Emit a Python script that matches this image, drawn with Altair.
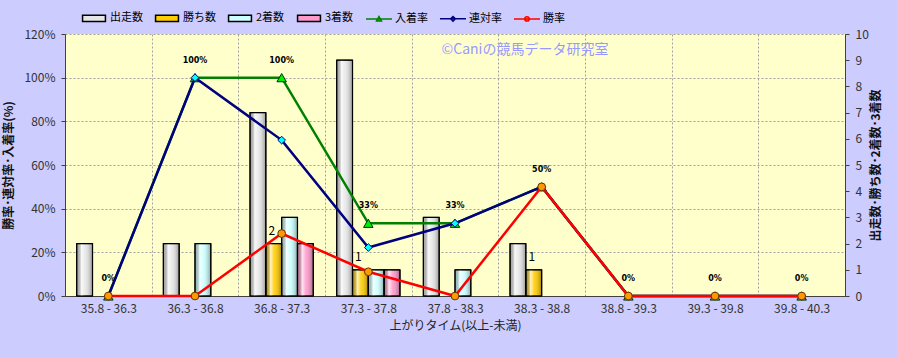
import altair as alt
import pandas as pd

# ---------------- data ----------------
categories = ["35.8 - 36.3", "36.3 - 36.8", "36.8 - 37.3", "37.3 - 37.8", "37.8 - 38.3",
              "38.3 - 38.8", "38.8 - 39.3", "39.3 - 39.8", "39.8 - 40.3"]
runs = [2, 2, 7, 9, 3, 2, 0, 0, 0]          # 出走数
wins = [0, 0, 2, 1, 0, 1, 0, 0, 0]          # 勝ち数
seconds = [0, 2, 3, 1, 1, 0, 0, 0, 0]       # 2着数
thirds = [0, 0, 2, 1, 0, 0, 0, 0, 0]        # 3着数
show_rate = [0, 1.0, 1.0, 0.333, 0.333, 0.5, 0, 0, 0]      # 入着率
rentai_rate = [0, 1.0, 0.714, 0.222, 0.333, 0.5, 0, 0, 0]  # 連対率
win_rate = [0, 0, 0.286, 0.111, 0, 0.5, 0, 0, 0]           # 勝率

bar_series = ["出走数", "勝ち数", "2着数", "3着数"]
rate_series = ["入着率", "連対率", "勝率"]
all_series = bar_series + rate_series

FONT = "Noto Sans CJK JP"

# ---------------- tables ----------------
bar_rows = []
for s, vals in zip(bar_series, [runs, wins, seconds, thirds]):
    for c, v in zip(categories, vals):
        if v > 0:
            bar_rows.append({"cat": c, "series": s, "count": v})
bars_df = pd.DataFrame(bar_rows)
wins_lbl_df = pd.DataFrame([{"cat": c, "series": "勝ち数", "count": v}
                            for c, v in zip(categories, wins) if v > 0])

def rate_df(vals):
    return pd.DataFrame({"cat": categories, "rate": vals})

# legend-only rows, placed outside the y domain and clipped away
legend_df = pd.DataFrame({"series": all_series, "cat": categories[0], "rate": -1.0})

# ---------------- scales / encodings ----------------
fill_colors = ["#e6e6e6", "#ffcc00", "#ccffff", "#ff99cc", "#00ee00", "#00ffff", "#ff9900"]
stroke_colors = ["#000000", "#000000", "#000000", "#000000", "#008000", "#000080", "#ff0000"]
bar_path = "M-0.88,-0.24H0.88V0.24H-0.88Z"
shape_paths = [
    bar_path, bar_path, bar_path, bar_path,
    "M-1,0H1M0,-0.19L0.19,0.15L-0.19,0.15Z",
    "M-1,0H1M0,-0.18L0.18,0L0,0.18L-0.18,0Z",
    "M-1,0H1M-0.17,0A0.17,0.17 0 1,1 0.17,0A0.17,0.17 0 1,1 -0.17,0Z",
]

legend = alt.Legend(title=None, orient="none", legendX=15, legendY=-30,
                    direction="horizontal", columns=7,
                    symbolSize=676, symbolStrokeWidth=1.5, symbolOpacity=1,
                    labelFont=FONT, labelFontSize=11, labelColor="#000000",
                    labelOffset=2, columnPadding=9)

x_enc = alt.X("cat:N", sort=categories,
              scale=alt.Scale(domain=categories, paddingInner=0, paddingOuter=0),
              axis=alt.Axis(title="上がりタイム(以上-未満)", labelAngle=0, tickBand="extent",
                            grid=True, gridDash=[2, 2], gridColor="#a0a0a0",
                            ticks=False, domainColor="#404040",
                            labelFont=FONT, labelFontSize=12, labelColor="#333333",
                            labelPadding=7, titleFont=FONT, titleFontSize=12,
                            titleFontWeight="normal", titleColor="#222222",
                            titlePadding=6))

xoff_enc = alt.XOffset("series:N",
                       scale=alt.Scale(domain=bar_series, paddingInner=0, paddingOuter=0.74))

y_count = alt.Y("count:Q", scale=alt.Scale(domain=[0, 10]),
                axis=alt.Axis(orient="right", values=list(range(11)), grid=False,
                              title="出走数･勝ち数･2着数･3着数", titleAngle=270,
                              titleFont=FONT, titleFontSize=12, titleFontWeight="bold",
                              titleColor="#111111", titlePadding=14,
                              labelFont=FONT, labelFontSize=12, labelColor="#333333",
                              labelPadding=6, tickSize=4, tickColor="#404040",
                              domainColor="#404040"))

y_rate = alt.Y("rate:Q", scale=alt.Scale(domain=[0, 1.2]),
               axis=alt.Axis(orient="left", values=[0, 0.2, 0.4, 0.6, 0.8, 1.0, 1.2],
                             format=".0%", grid=True, gridDash=[2, 2], gridColor="#a0a0a0",
                             title="勝率･連対率･入着率(%)", titleAngle=270,
                             titleFont=FONT, titleFontSize=12, titleFontWeight="bold",
                             titleColor="#111111", titlePadding=8,
                             labelFont=FONT, labelFontSize=12, labelColor="#333333",
                             labelPadding=6, tickSize=4, tickColor="#404040",
                             domainColor="#404040"))

# ---------------- bars group ----------------
shade = alt.LinearGradient(
    gradient="linear", x1=0, x2=1, y1=0, y2=0,
    stops=[alt.GradientStop(offset=0, color="rgba(0,0,0,0.22)"),
           alt.GradientStop(offset=0.3, color="rgba(255,255,255,0.75)"),
           alt.GradientStop(offset=0.55, color="rgba(255,255,255,0.1)"),
           alt.GradientStop(offset=1, color="rgba(0,0,0,0.35)")])

bar_fill_scale = alt.Scale(domain=bar_series, range=fill_colors[:4])

bars = alt.Chart(bars_df).mark_bar(stroke="#000000", strokeWidth=1).encode(
    x=x_enc, xOffset=xoff_enc, y=y_count,
    color=alt.Color("series:N", scale=bar_fill_scale, legend=None))
bars_shade = alt.Chart(bars_df).mark_bar(fill=shade, stroke="#000000", strokeWidth=1.2).encode(
    x=x_enc, xOffset=xoff_enc, y=y_count)
win_labels = alt.Chart(wins_lbl_df).mark_text(dy=-13, dx=-2, font=FONT, fontSize=12,
                                              color="#000000").encode(
    x=x_enc, xOffset=xoff_enc, y=y_count, text=alt.Text("count:Q"))

bars_group = alt.layer(bars, bars_shade, win_labels)

# ---------------- rates group ----------------
def line_layer(vals, color):
    return alt.Chart(rate_df(vals)).mark_line(color=color, strokeWidth=2.5).encode(
        x=x_enc, y=y_rate)

def point_layer(vals, shape, fill, stroke, size):
    return alt.Chart(rate_df(vals)).mark_point(shape=shape, filled=True, fill=fill,
                                               stroke=stroke, strokeWidth=1, size=size,
                                               opacity=1).encode(x=x_enc, y=y_rate)

show_line = line_layer(show_rate, "#008000")
show_pts = point_layer(show_rate, "triangle-up", "#00ee00", "#003300", 90)
rentai_line = line_layer(rentai_rate, "#000080")
rentai_pts = point_layer(rentai_rate, "diamond", "#00ffff", "#000080", 60)
win_line = line_layer(win_rate, "#ff0000")
win_pts = point_layer(win_rate, "circle", "#ff9900", "#663300", 60)

show_labels = alt.Chart(rate_df(show_rate)).mark_text(
    dy=-17, font="DejaVu Sans", fontSize=8, fontWeight="bold", color="#000000").encode(
    x=x_enc, y=y_rate, text=alt.Text("rate:Q", format=".0%"))

watermark = alt.Chart(pd.DataFrame({"a": [0]})).mark_text(
    font=FONT, fontSize=14, color="#9999ff", align="center").encode(
    x=alt.value(460), y=alt.value(16), text=alt.value("©Caniの競馬データ研究室"))

rates_group = alt.layer(show_line, show_pts, rentai_line, rentai_pts,
                        win_line, win_pts, show_labels, watermark)

legend_layer = alt.Chart(legend_df).mark_point(filled=True, clip=True, opacity=1).encode(
    x=x_enc,
    y=alt.Y("rate:Q", scale=alt.Scale(domain=[0, 1.2]), axis=None),
    fill=alt.Fill("series:N", scale=alt.Scale(domain=all_series, range=fill_colors), legend=legend),
    stroke=alt.Stroke("series:N", scale=alt.Scale(domain=all_series, range=stroke_colors), legend=legend),
    shape=alt.Shape("series:N", scale=alt.Scale(domain=all_series, range=shape_paths), legend=legend))

chart = alt.layer(bars_group, rates_group, legend_layer).resolve_scale(
    y="independent").properties(
    width=780, height=262,
    autosize=alt.AutoSizeParams(type="none"),
    padding={"left": 65, "top": 34, "right": 53, "bottom": 62},
    background="#ccccff",
).configure_view(fill="#ffffcc", stroke=None)

chart.save("out.html", embed_options={"renderer": "svg", "actions": False})
